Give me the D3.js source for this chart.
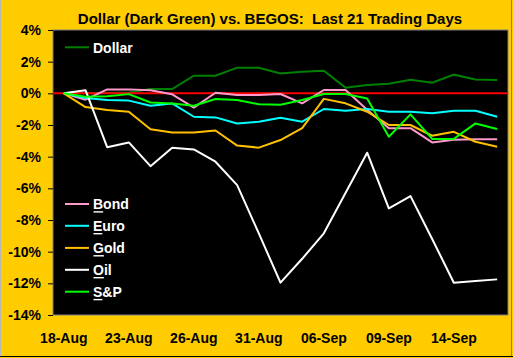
<!DOCTYPE html>
<html><head><meta charset="utf-8">
<script src="https://cdn.jsdelivr.net/npm/d3@7"></script>
<style>
html,body{margin:0;padding:0;background:#FFCC00;}
svg{display:block;}
text{font-family:"Liberation Sans",Arial,sans-serif;font-weight:bold;}
</style></head>
<body>
<svg id="c" width="513" height="358"></svg>
<script>
const dates = ["18-Aug","19-Aug","20-Aug","23-Aug","24-Aug","25-Aug","26-Aug","27-Aug","30-Aug","31-Aug","01-Sep","02-Sep","06-Sep","07-Sep","08-Sep","09-Sep","10-Sep","13-Sep","14-Sep","15-Sep","16-Sep"];
const dollar = [0, 0, 0.02, 0.05, 0.27, 0.27, 1.11, 1.11, 1.62, 1.62, 1.26, 1.37, 1.43, 0.36, 0.52, 0.6, 0.86, 0.67, 1.18, 0.88, 0.84];
const bond = [0, -0.4, 0.25, 0.25, 0.2, -0.06, -0.9, 0.04, -0.1, -0.1, -0.04, -0.63, 0.21, 0.21, -1.04, -2.2, -2.2, -3.1, -2.93, -2.9, -2.9];
const euro = [0, -0.3, -0.42, -0.46, -0.78, -0.64, -1.48, -1.52, -1.9, -1.79, -1.54, -1.79, -0.99, -1.1, -0.99, -1.16, -1.16, -1.26, -1.1, -1.1, -1.48];
const gold = [0, -0.87, -1.05, -1.16, -2.27, -2.48, -2.48, -2.35, -3.3, -3.43, -2.95, -2.2, -0.35, -0.63, -1.16, -2.0, -2.0, -2.68, -2.43, -3.06, -3.37];
const oil = [0, 0.2, -3.4, -3.1, -4.6, -3.43, -3.54, -4.32, -5.8, -8.85, -11.96, -10.45, -8.84, -6.3, -3.75, -7.27, -6.49, -9.2, -11.96, -11.86, -11.75];
const sp = [0, -0.21, -0.19, -0.05, -0.58, -0.64, -0.78, -0.36, -0.42, -0.69, -0.72, -0.42, -0.04, -0.04, -0.32, -2.74, -1.33, -2.88, -2.88, -1.9, -2.25];
const yTicks = [4, 2, 0, -2, -4, -6, -8, -10, -12, -14];
const xTickLabels = ["18-Aug","23-Aug","26-Aug","31-Aug","06-Sep","09-Sep","14-Sep"];
const titleText = "Dollar (Dark Green) vs. BEGOS:  Last 21 Trading Days";

const series = [
  {name:"Dollar", values:dollar, color:"#008000"},
  {name:"Bond", values:bond, color:"#FF99CC"},
  {name:"Euro", values:euro, color:"#00FFFF"},
  {name:"Gold", values:gold, color:"#FFC000"},
  {name:"Oil", values:oil, color:"#FFFFFF"},
  {name:"S&P", values:sp, color:"#00FF00"}
];

const W = 513, H = 358;
const plot = {left:53, right:508, top:30, bottom:315};
const svg = d3.select("#c");

svg.append("rect").attr("x",0).attr("y",0).attr("width",W).attr("height",H).attr("fill","#FFCC00");
// outer frame
svg.append("line").attr("x1",0.5).attr("x2",0.5).attr("y1",0).attr("y2",H).attr("stroke","#b8b8b8");
svg.append("line").attr("x1",511.5).attr("x2",511.5).attr("y1",0).attr("y2",H).attr("stroke","#808080");
svg.append("line").attr("x1",0).attr("x2",W).attr("y1",356.5).attr("y2",356.5).attr("stroke","#000");
svg.append("line").attr("x1",0).attr("x2",W).attr("y1",357.5).attr("y2",357.5).attr("stroke","#FFCC00");

const x = d3.scaleBand().domain(dates).range([plot.left, plot.right]).padding(0);
const cx = d => x(d) + x.bandwidth()/2;
const y = d3.scaleLinear().domain([-14, 4]).range([plot.bottom, plot.top]);

// plot area
svg.append("rect").attr("x",plot.left).attr("y",plot.top)
  .attr("width",plot.right-plot.left).attr("height",plot.bottom-plot.top)
  .attr("fill","#000").attr("stroke","#808080").attr("stroke-width",1);

// y axis
const yAxis = d3.axisLeft(y).tickValues(yTicks).tickSize(5).tickPadding(7)
  .tickFormat(d => d + "%");
const ya = svg.append("g").attr("transform",`translate(${plot.left},0)`).call(yAxis);
ya.select(".domain").remove();
ya.selectAll("line").attr("stroke","#000");
ya.selectAll("text").attr("fill","#000").attr("font-size",14)
  .attr("font-family","Liberation Sans, Arial, sans-serif").attr("font-weight","bold");

// x axis labels
const xAxis = d3.axisBottom(x).tickValues(xTickLabels).tickSize(0).tickPadding(18);
const xa = svg.append("g").attr("transform",`translate(0,${plot.bottom})`).call(xAxis);
xa.select(".domain").remove();
xa.selectAll("text").attr("fill","#000").attr("font-size",14)
  .attr("font-family","Liberation Sans, Arial, sans-serif").attr("font-weight","bold");

// title
svg.append("text").attr("x",270).attr("y",24).attr("text-anchor","middle")
  .attr("font-size",15).attr("fill","#000").style("white-space","pre").text(titleText);

const line = d3.line().x((d,i) => cx(dates[i])).y(d => y(d));

// dollar first
svg.append("path").datum(series[0].values).attr("d",line).attr("fill","none")
  .attr("stroke",series[0].color).attr("stroke-width",2);
// zero line
svg.append("line").attr("x1",plot.left+0.5).attr("x2",plot.right-0.5)
  .attr("y1",y(0)).attr("y2",y(0)).attr("stroke","#FF0000").attr("stroke-width",2);
series.slice(1).forEach(s => {
  svg.append("path").datum(s.values).attr("d",line).attr("fill","none")
    .attr("stroke",s.color).attr("stroke-width",2).attr("stroke-linejoin","round");
});

// legend
const legendY = {"Dollar":47.3, "Bond":204, "Euro":225.8, "Gold":247.9, "Oil":269.8, "S&P":291.7};
series.forEach(s => {
  const ly = legendY[s.name];
  svg.append("line").attr("x1",65).attr("x2",89).attr("y1",ly).attr("y2",ly)
    .attr("stroke",s.color).attr("stroke-width",2);
  const t = svg.append("text").attr("x",93).attr("y",ly+5.3).attr("font-size",14)
    .attr("fill","#fff").text(s.name);
  if (s.name !== "Dollar") {
    const w = t.node().getSubStringLength(0,1);
    svg.append("rect").attr("x",93.5).attr("y",ly+7.2).attr("width",w-0.5).attr("height",1.4).attr("fill","#fff");
  }
});
</script>
</body></html>
